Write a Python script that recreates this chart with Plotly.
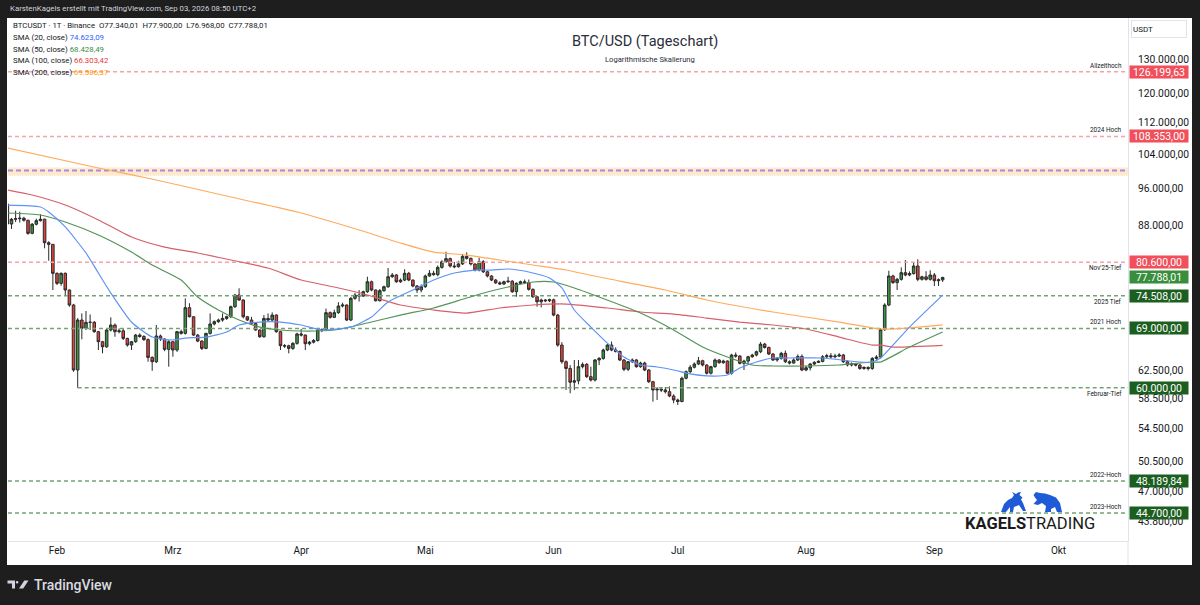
import numpy as np
import pandas as pd
import plotly.graph_objects as go

# ---------------- canvas geometry ----------------
W, H = 1200, 605
ML, MR, MT, MB = 8, 72, 18, 64
PW, PH = W - ML - MR, H - MT - MB


def px(x):
    return (x - ML) / PW


def py(y):
    return (H - MB - y) / PH


# ---------------- data ----------------
START = "2026-01-20"

opens = [
    92430, 88200, 89180, 89300, 89400, 88970, 86280, 88150, 88900, 89200,
    84400, 84080, 78540, 76710, 78540, 75520, 72900, 62570, 70370, 69020,
    69990, 70000, 68470, 66870, 66080, 68740, 69550, 68470, 68600, 67400,
    66350, 66870, 67930, 67700, 67200, 64450, 63800, 67780, 67300, 65680,
    66870, 65580, 68470, 68200, 72450, 70920, 67930, 66970, 65830, 68200,
    69720, 70100, 70370, 70640, 70920, 72610, 74630, 73760, 70920, 70370,
    69780, 68740, 67660, 70640, 70370, 71200, 68470, 66250, 66250, 65830,
    66620, 68100, 67930, 66560, 66800, 67050, 68740, 68800, 71600, 70820,
    71600, 72730, 72900, 70370, 74050, 74630, 74450, 75220, 77000, 75520,
    73640, 75400, 76100, 77920, 78230, 77000, 77300, 78540, 77310, 76230,
    75520, 76110, 78050, 78540, 78300, 79650, 80690, 81300, 79900, 79770,
    80300, 81740, 81350, 80280, 79150, 80720, 78830, 78050, 77310, 76800,
    76600, 77000, 77100, 75220, 76710, 77000, 76850, 75640, 74330, 73460,
    73760, 73640, 73800, 71200, 66350, 63800, 62800, 60800, 61000, 63060,
    63400, 61600, 61110, 64060, 64300, 65580, 66350, 65580, 65350, 64060,
    62670, 63800, 64060, 63060, 63600, 62570, 60870, 59700, 59800, 59700,
    59460, 58860, 58310, 58100, 61370, 62320, 62980, 63460, 63950, 63310,
    62100, 63060, 64060, 63650, 63900, 62100, 64810, 64650, 63560, 63900,
    64550, 64810, 65320, 66500, 65980, 64970, 64060, 64320, 65070, 63800,
    63600, 64060, 64600, 62570, 62900, 63460, 63700, 63850, 64550, 64700,
    64550, 64650, 64810, 63800, 63310, 63460, 63310, 62800, 62950, 62800,
    64300, 64500, 68800, 72900, 78050, 76850, 77440, 78660, 78230, 78500,
    79900, 77440, 77900, 77440, 78230, 77180, 77340.01,
]
highs = [
    92650, 89460, 91000, 90800, 89700, 89100, 88400, 89300, 90240, 89300,
    84700, 84100, 78700, 78700, 78700, 75600, 73100, 70700, 71480, 71880,
    71300, 70200, 68600, 67000, 68900, 70820, 69800, 69000, 68900, 67500,
    67000, 68100, 68200, 67900, 67400, 64600, 69550, 68000, 67400, 67100,
    67000, 68600, 68800, 74050, 73200, 71000, 68100, 67100, 68300, 71480,
    70300, 70600, 71480, 71100, 72800, 74800, 75820, 73900, 71050, 70900,
    69950, 68850, 71200, 71480, 71650, 71300, 68600, 66500, 66400, 66800,
    68300, 68900, 68000, 67000, 67300, 69000, 69000, 72300, 71800, 72100,
    73400, 73300, 73000, 74300, 75000, 75500, 75400, 77920, 77200, 75600,
    75700, 76300, 79530, 78600, 78400, 77600, 79300, 78800, 77400, 76400,
    76500, 78300, 79150, 79000, 80000, 81000, 82640, 81500, 80700, 80900,
    82200, 82500, 81500, 80400, 81500, 81000, 79000, 78200, 77500, 77100,
    77200, 77900, 77300, 76900, 77200, 77400, 77400, 75800, 74500, 74000,
    73900, 74000, 74000, 71400, 66800, 64000, 63300, 64060, 64060, 63700,
    63600, 63060, 64200, 64500, 65800, 66500, 66900, 66000, 65500, 64200,
    63900, 64300, 64200, 63800, 63800, 62700, 61000, 60100, 60000, 60100,
    60200, 59100, 58500, 61600, 62500, 63300, 63700, 64520, 64100, 63400,
    63200, 64300, 64200, 64100, 64000, 65000, 65200, 64800, 64100, 64700,
    65000, 65500, 66800, 66700, 66100, 65100, 64500, 65300, 65500, 64000,
    64300, 64900, 64900, 63200, 63600, 63900, 64000, 64800, 65000, 65100,
    65000, 65100, 65000, 64000, 63700, 63600, 63500, 63100, 63100, 64500,
    64800, 69000, 73200, 79020, 78300, 77700, 79650, 81040, 78900, 80530,
    81180, 78100, 78930, 79100, 78600, 77600, 77900.00,
]
lows = [
    87170, 87170, 88600, 88500, 88700, 86000, 86100, 87900, 88700, 83300,
    80900, 75520, 76400, 76300, 74450, 72600, 62300, 60000, 67250, 68740,
    68740, 68300, 65580, 65070, 65900, 68500, 67660, 68200, 67140, 66100,
    65580, 66700, 67500, 67000, 63800, 62450, 63600, 67000, 65400, 63060,
    64560, 65300, 68000, 68000, 70800, 67800, 66800, 65580, 65700, 68000,
    69500, 69900, 70100, 70400, 70700, 72400, 73600, 70640, 70200, 69600,
    68600, 67500, 67500, 70200, 70200, 68300, 65580, 65900, 65070, 65600,
    66400, 67700, 65580, 66300, 66600, 66900, 68400, 68600, 70600, 70700,
    71400, 72500, 70200, 70200, 73800, 73500, 74300, 75000, 75300, 73500,
    73500, 75200, 75900, 77700, 76800, 76800, 77100, 77100, 76000, 75000,
    75100, 75900, 77900, 78100, 78000, 79400, 80500, 79600, 79500, 79600,
    80100, 81100, 80000, 78900, 78900, 78600, 77800, 77100, 76600, 76400,
    76400, 76800, 75000, 74330, 76500, 76700, 75400, 74100, 72610, 72500,
    73400, 73400, 71000, 66100, 63500, 59700, 59240, 59700, 60500, 62800,
    61400, 60900, 60900, 63300, 64100, 65400, 65400, 65200, 63900, 62400,
    62400, 63600, 62900, 62900, 62400, 60700, 58080, 58310, 59400, 59200,
    58700, 57860, 57630, 58000, 61200, 62100, 62800, 63300, 63100, 61900,
    61900, 62900, 63500, 63500, 62000, 61900, 64400, 63400, 62570, 63400,
    64400, 64600, 65100, 65800, 64800, 63900, 63800, 64100, 63600, 63400,
    63500, 63900, 62400, 62400, 62500, 63300, 63600, 63700, 64300, 64300,
    64300, 64500, 63600, 63100, 63100, 63100, 62600, 62600, 62500, 62600,
    64100, 64300, 68600, 72700, 76600, 75520, 77200, 78000, 78000, 78300,
    77100, 77200, 77200, 77200, 76230, 76230, 76968.00,
]
closes = [
    88200, 89180, 89300, 89400, 88970, 86280, 88150, 88900, 89200, 84400,
    84080, 78540, 76710, 78540, 75520, 72900, 62570, 70370, 69020, 69990,
    70000, 68470, 66870, 66080, 68740, 69550, 68470, 68600, 67400, 66350,
    66870, 67930, 67700, 67200, 64450, 63800, 67780, 67300, 65680, 66870,
    65580, 68470, 68200, 72450, 70920, 67930, 66970, 65830, 68200, 69720,
    70100, 70370, 70640, 70920, 72610, 74630, 73760, 70920, 70370, 69780,
    68740, 67660, 70640, 70370, 71200, 68470, 66250, 66200, 65830, 66620,
    68100, 67930, 66560, 66800, 67050, 68740, 68800, 71600, 70820, 71600,
    72730, 72900, 70370, 74050, 74630, 74450, 75220, 77000, 75520, 73640,
    75400, 76100, 77920, 78230, 77000, 77300, 78540, 77310, 76230, 75520,
    76110, 78050, 78540, 78300, 79650, 80690, 81300, 79900, 79770, 80300,
    81740, 81350, 80280, 79150, 80720, 78830, 78050, 77310, 76800, 76600,
    77000, 77100, 75220, 76710, 77000, 76850, 75640, 74330, 73460, 73760,
    73640, 73800, 71200, 66350, 63800, 62800, 60800, 61000, 63060, 63400,
    61600, 61110, 64060, 64300, 65580, 66350, 65580, 65350, 64060, 62670,
    63800, 64060, 63060, 63600, 62570, 60870, 59700, 59800, 59700, 59460,
    58860, 58310, 58100, 61370, 62320, 62980, 63460, 63950, 63310, 62100,
    63060, 64060, 63650, 63900, 62100, 64810, 64650, 63560, 63900, 64550,
    64810, 65320, 66500, 65980, 64970, 64060, 64320, 65070, 63800, 63600,
    64060, 64600, 62570, 62900, 63460, 63700, 63850, 64550, 64700, 64550,
    64650, 64810, 63800, 63310, 63460, 63310, 62800, 62950, 62800, 64300,
    64500, 68800, 72900, 78050, 76850, 77440, 78660, 78230, 78500, 79900,
    77440, 77900, 77440, 78230, 77180, 77340, 77788.01,
]

# moving averages (day offset from START, value)
sma20_day = [0, 8, 10, 14, 19, 22, 25, 30, 35, 40, 43, 48, 53, 56, 61, 66, 71, 76, 83, 88,
             92, 98, 103, 108, 113, 117, 121, 126, 131, 134, 137, 141, 145, 149, 153, 157,
             161, 165, 169, 174, 177, 181, 185, 189, 197, 206, 209, 211, 218, 226]
sma20_val = [92220, 91790, 90720, 87590, 82380, 78600, 74980, 70040, 67610, 67140, 67450,
             67610, 68420, 69550, 70040, 70040, 69550, 68740, 69220, 70870, 73420, 75520,
             77310, 78600, 79150, 79150, 79340, 78780, 77680, 75880, 72050, 69220, 66660,
             64510, 63310, 63010, 62570, 61990, 61700, 61840, 62860, 63760, 64360, 64360,
             64360, 63760, 63760, 64360, 69220, 74623.09]

sma50_day = [0, 8, 14, 22, 30, 35, 42, 46, 51, 56, 61, 66, 71, 79, 87, 95, 103, 111, 116,
             121, 127, 132, 137, 143, 153, 161, 168, 174, 180, 185, 193, 201, 209, 211, 218, 226]
sma50_val = [90510, 90090, 88620, 85950, 82570, 80090, 77310, 74280, 72050, 70370, 69220,
             68740, 68580, 68740, 69880, 71200, 72390, 74110, 75160, 76050, 76950, 76950,
             75880, 74280, 71540, 68740, 66040, 64510, 63310, 63160, 63160, 63310, 63760,
             63760, 66040, 68428.49]

sma100_day = [0, 6, 14, 22, 30, 38, 46, 54, 63, 71, 79, 87, 95, 103, 111, 119, 127, 135,
              145, 153, 161, 169, 177, 185, 193, 201, 209, 211, 214, 226]
sma100_val = [95550, 94420, 92220, 89040, 85540, 83540, 82380, 81040, 79530, 77310, 76050,
              74630, 72900, 72050, 71540, 72390, 72900, 73070, 72390, 71710, 71370, 70700,
              70040, 69550, 68900, 67610, 66350, 66350, 66040, 66303.42]

sma200_day = [0, 22, 36, 54, 71, 85, 95, 103, 111, 119, 127, 135, 143, 159, 169, 185, 201,
              211, 214, 226]
sma200_val = [105450, 100610, 97810, 93970, 90510, 86970, 84340, 82570, 81990, 81040, 80090,
              79150, 77860, 75520, 73760, 71710, 70040, 68900, 68900, 69586.37]

# horizontal levels
level_price = [126199.63, 108353.00, 80600.00, 74508.00, 69000.00, 60000.00, 48189.84, 44700.00]
level_name = ["Allzeithoch", "2024 Hoch", "Nov'25-Tief", "2025 Tief", "2021 Hoch",
              "Februar-Tief", "2022-Hoch", "2023-Hoch"]
level_text = ["126.199,63", "108.353,00", "80.600,00", "74.508,00", "69.000,00",
              "60.000,00", "48.189,84", "44.700,00"]
level_kind = ["res", "res", "res", "sup", "sup", "sup", "sup", "sup"]
level_name_above = [True, True, False, False, True, False, True, True]
level_start_day = [None, None, None, None, None, 17, None, None]

zone_low, zone_mid, zone_high = 98800, 100000, 100700

last_close_text = "77.788,01"

ytick_vals = [130000, 120000, 112000, 104000, 96000, 88000, 62500, 58500, 54500, 50500, 47000, 43800]
ytick_text = ["130.000,00", "120.000,00", "112.000,00", "104.000,00", "96.000,00", "88.000,00",
              "62.500,00", "58.500,00", "54.500,00", "50.500,00", "47.000,00", "43.800,00"]

month_ticks = ["2026-02-01", "2026-03-01", "2026-04-01", "2026-05-01", "2026-06-01",
               "2026-07-01", "2026-08-01", "2026-09-01", "2026-10-01"]
month_names = ["Feb", "Mrz", "Apr", "Mai", "Jun", "Jul", "Aug", "Sep", "Okt"]

legend_rows = [
    ("BTCUSDT · 1T · Binance  O77.340,01  H77.900,00  L76.968,00  C77.788,01", None, None),
    ("SMA (20, close) ", "74.623,09", "#2962ff"),
    ("SMA (50, close) ", "68.428,49", "#388e3c"),
    ("SMA (100, close) ", "66.303,42", "#e53935"),
    ("SMA (200, close) ", "69.586,37", "#ff9800"),
]

# ---------------- build ----------------
start = pd.Timestamp(START)
dates = pd.date_range(START, periods=len(closes), freq="D")


def to_dates(offsets):
    return [start + pd.Timedelta(days=d) for d in offsets]


X0 = pd.Timestamp("2026-01-20 03:50")
X1 = pd.Timestamp("2026-10-17 19:00")
Y0, Y1 = 41855, 143160

FONT = "Roboto, Liberation Sans, Arial, sans-serif"
TXT = "#131722"
RED_LINE = "#f4a3aa"
GREEN_LINE = "#74a474"
RED_BOX = "#f04f5b"
GREEN_BOX = "#1b5e20"
LAST_BOX = "#388e3c"

fig = go.Figure()

# resistance zone around 100k
fig.add_trace(go.Scatter(
    x=[X0, X1, X1, X0, X0], y=[zone_low, zone_low, zone_high, zone_high, zone_low],
    fill="toself", fillcolor="#fdebcf", mode="lines", line=dict(width=0),
    hoverinfo="skip", showlegend=False))
fig.add_trace(go.Scatter(
    x=[X0, X1], y=[zone_mid, zone_mid], mode="lines",
    line=dict(color="#ae88de", width=2, dash="5px,3px"), hoverinfo="skip", showlegend=False))

for p, kind, sd in zip(level_price, level_kind, level_start_day):
    xs = X0 if sd is None else start + pd.Timedelta(days=sd)
    fig.add_trace(go.Scatter(
        x=[xs, X1], y=[p, p], mode="lines",
        line=dict(color=RED_LINE if kind == "res" else GREEN_LINE, width=1.5, dash="4px,3px"),
        hoverinfo="skip", showlegend=False))

# moving averages
for d, v, c in [(sma200_day, sma200_val, "#ffab5e"), (sma100_day, sma100_val, "#d6606a"),
                (sma50_day, sma50_val, "#54935a"), (sma20_day, sma20_val, "#5f93f5")]:
    fig.add_trace(go.Scatter(
        x=to_dates(d), y=v, mode="lines", line=dict(color=c, width=1.2, shape="spline", smoothing=0.6),
        hoverinfo="skip", showlegend=False))

# candles
fig.add_trace(go.Candlestick(
    x=dates, open=opens, high=highs, low=lows, close=closes,
    increasing=dict(fillcolor="#3c9441", line=dict(color="#2a2a2a", width=1)),
    decreasing=dict(fillcolor="#e2403b", line=dict(color="#2a2a2a", width=1)),
    whiskerwidth=0, hoverinfo="skip", showlegend=False))

shapes = [
    # white chart panel
    dict(type="rect", xref="paper", yref="paper", x0=px(7), x1=px(1192), y0=py(565), y1=py(18),
         fillcolor="white", line=dict(width=0), layer="below"),
    # axis separator continuation
    dict(type="line", xref="paper", yref="paper", x0=1, x1=1, y0=py(565), y1=0,
         line=dict(color="#e0e3eb", width=1)),
]


def path_from(points):
    s = "M " + " L ".join(f"{px(x):.5f},{py(y):.5f}" for x, y in points) + " Z"
    return s


# TradingView logo glyph
tv_col = "#d1d4dc"
shapes.append(dict(type="path", xref="paper", yref="paper", fillcolor=tv_col, line=dict(width=0),
                   path=path_from([(7.5, 580.5), (15, 580.5), (15, 588.5), (12, 588.5), (12, 583.5), (7.5, 583.5)])))
shapes.append(dict(type="circle", xref="paper", yref="paper", fillcolor=tv_col, line=dict(width=0),
                   x0=px(15.8), x1=px(18.4), y0=py(583.6), y1=py(581)))
shapes.append(dict(type="path", xref="paper", yref="paper", fillcolor=tv_col, line=dict(width=0),
                   path=path_from([(24.3, 580.5), (28.5, 580.5), (23.2, 588.5), (19.0, 588.5)])))

# Kagels trading bull & bear
blue = "#1f5bd6"
bull = [(1001, 512), (1004, 504), (1008, 500), (1012, 498), (1014, 495), (1012, 492), (1016, 494),
        (1018, 492.5), (1021, 492), (1019.5, 495), (1022.5, 497.5), (1021, 499.5), (1023, 503),
        (1026, 511), (1023, 511), (1019, 505), (1014, 507), (1013, 512), (1010, 512), (1010, 507),
        (1006, 512)]
bear = [(1036, 492), (1040, 493), (1045, 493.5), (1050, 495), (1056, 497.5), (1060, 503),
        (1062, 512), (1057, 512), (1055, 507), (1051, 509), (1051, 512), (1045, 512), (1046, 506),
        (1042, 503), (1038, 505), (1033.5, 504), (1037, 500), (1035, 497.5), (1033.5, 495)]
shapes.append(dict(type="path", xref="paper", yref="paper", fillcolor=blue, line=dict(width=0),
                   path=path_from(bull)))
shapes.append(dict(type="path", xref="paper", yref="paper", fillcolor=blue, line=dict(width=0),
                   path=path_from(bear)))

ann = []

# header
ann.append(dict(x=px(8), y=py(9), xref="paper", yref="paper", xanchor="left", yanchor="middle",
                text="KarstenKagels erstellt mit TradingView.com, Sep 03, 2026 08:50 UTC+2",
                showarrow=False, font=dict(family=FONT, size=7.8, color="#d1d4dc")))

# legend rows
for k, (lbl, val, col) in enumerate(legend_rows):
    t = lbl if val is None else f"{lbl}<span style='color:{col}'>{val}</span>"
    ann.append(dict(x=px(11), y=py(26 + 11.6 * k), xref="paper", yref="paper", xanchor="left",
                    yanchor="middle", text=t, showarrow=False,
                    font=dict(family=FONT, size=7.8, color=TXT)))

# title
ann.append(dict(x=px(645), y=py(41), xref="paper", yref="paper", xanchor="center", yanchor="middle",
                text="BTC/USD (Tageschart)", showarrow=False,
                font=dict(family=FONT, size=14.5, color="#2a2e39")))
ann.append(dict(x=px(650), y=py(60), xref="paper", yref="paper", xanchor="center", yanchor="middle",
                text="Logarithmische Skalierung", showarrow=False,
                font=dict(family=FONT, size=7.6, color="#2a2e39")))

# USDT box
ann.append(dict(x=px(1131), y=py(28.5), xref="paper", yref="paper", xanchor="left", yanchor="middle",
                text="USDT", showarrow=False, align="left", width=52, height=14,
                bordercolor="#e0e3eb", borderwidth=1, borderpad=1, bgcolor="white",
                font=dict(family=FONT, size=8, color=TXT)))

# level names and price boxes
for p, name, txt, kind, above in zip(level_price, level_name, level_text, level_kind, level_name_above):
    ann.append(dict(x=1, y=np.log10(p), xref="paper", yref="y", xanchor="right", yanchor="middle",
                    xshift=-4, yshift=6 if above else -6, text=name, showarrow=False,
                    font=dict(family=FONT, size=6.4, color=TXT)))
    ann.append(dict(x=1, y=np.log10(p), xref="paper", yref="y", xanchor="left", yanchor="middle",
                    xshift=1, text=txt, showarrow=False, width=58, height=12, borderpad=0,
                    bgcolor=RED_BOX if kind == "res" else GREEN_BOX, align="center",
                    font=dict(family=FONT, size=10.5, color="white")))

# last price box
ann.append(dict(x=1, y=np.log10(closes[-1]), xref="paper", yref="y", xanchor="left", yanchor="middle",
                xshift=1, text=last_close_text, showarrow=False, width=58, height=12, borderpad=0,
                bgcolor=LAST_BOX, align="center", font=dict(family=FONT, size=10.5, color="white")))

# Kagels Trading wordmark
ann.append(dict(x=px(1030), y=py(523), xref="paper", yref="paper", xanchor="center", yanchor="middle",
                text="<b>KAGELS</b>TRADING", showarrow=False,
                font=dict(family="Roboto, Liberation Sans, sans-serif", size=16.5, color="#1a1a1a")))

# TradingView footer
ann.append(dict(x=px(32), y=py(585), xref="paper", yref="paper", xanchor="left", yanchor="middle",
                text="TradingView", showarrow=False,
                font=dict(family="Roboto, Liberation Sans, sans-serif", size=14, color="#d9dbe0", weight=500)))

fig.update_layout(
    width=W, height=H,
    margin=dict(l=ML, r=MR, t=MT, b=MB, autoexpand=False),
    paper_bgcolor="#1e1e1e", plot_bgcolor="white",
    showlegend=False, hovermode=False, boxgap=0.12,
    shapes=shapes, annotations=ann,
    xaxis=dict(type="date", range=[X0, X1], tickvals=month_ticks, ticktext=month_names,
               showgrid=False, zeroline=False, showline=True, linecolor="#e0e3eb", linewidth=1,
               ticks="", tickfont=dict(family=FONT, size=10, color=TXT),
               rangeslider=dict(visible=False), fixedrange=True),
    yaxis=dict(type="log", side="right", range=[np.log10(Y0), np.log10(Y1)],
               tickvals=ytick_vals, ticktext=ytick_text, showgrid=False, zeroline=False,
               showline=True, linecolor="#e0e3eb", linewidth=1, ticks="",
               ticklabelstandoff=7, tickfont=dict(family=FONT, size=10.3, color=TXT),
               automargin=False, fixedrange=True),
)

fig.write_html(
    "out.html",
    config={"displayModeBar": False, "staticPlot": True},
    post_script="document.body.style.margin='0';document.body.style.padding='0';"
                "document.body.style.overflow='hidden';document.body.style.background='#1e1e1e';",
)
